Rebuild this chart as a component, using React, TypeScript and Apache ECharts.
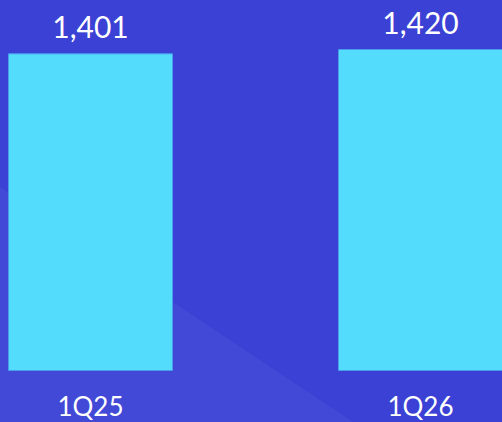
import React, { useEffect, useRef } from "react";
import * as echarts from "echarts";

const categories = ["1Q25", "1Q26"];
const values = [1401, 1420];

export default function App() {
  const ref = useRef<HTMLDivElement>(null);
  useEffect(() => {
    if (!ref.current) return;
    const chart = echarts.init(ref.current, null, { renderer: "svg" });
    chart.setOption({
      animation: false,
      backgroundColor: "#3B41D4",
      graphic: [
        {
          type: "polygon",
          z: -10,
          silent: true,
          shape: { points: [[0, 187], [353, 422], [0, 422]] },
          style: { fill: "#4249D6" },
        },
      ],
      grid: {
        left: -74.5,
        right: -83.5,
        top: 49,
        bottom: 51,
        containLabel: false,
        outerBoundsMode: "none",
      },
      xAxis: {
        type: "category",
        data: categories,
        axisLine: { show: false },
        axisTick: { show: false },
        axisLabel: {
          color: "#FFFFFF",
          fontFamily: "Lato",
          fontSize: 26,
          margin: 22,
        },
      },
      yAxis: {
        type: "value",
        min: 0,
        max: Math.max(...values),
        show: false,
        splitLine: { show: false },
      },
      series: [
        {
          type: "bar",
          data: values,
          barWidth: "50%",
          itemStyle: { color: "#54DCFD", borderColor: "#4A9BEB", borderWidth: 1 },
          label: {
            show: true,
            position: "top",
            distance: 12,
            color: "#FFFFFF",
            fontFamily: "Lato",
            fontSize: 30,
            formatter: (p: any) => p.value.toLocaleString("en-US"),
          },
        },
      ],
    });
    return () => chart.dispose();
  }, []);
  return (
    <div
      ref={ref}
      style={{ position: "absolute", left: 0, top: 0, width: 502, height: 422 }}
    />
  );
}
